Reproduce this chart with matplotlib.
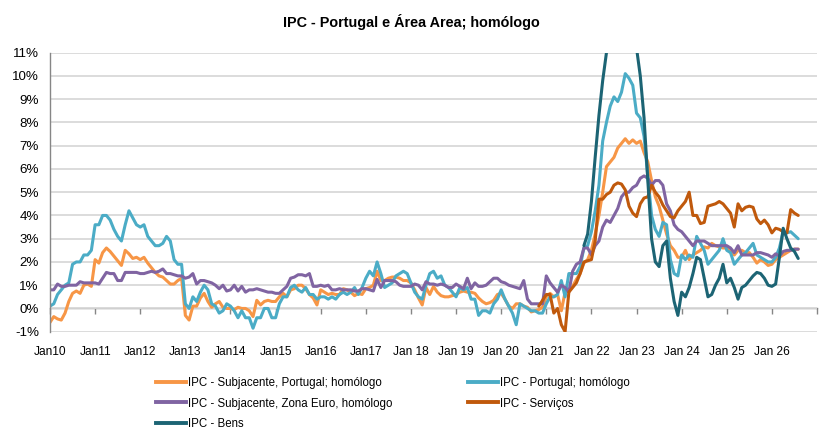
import numpy as np
import pandas as pd
import matplotlib
matplotlib.use("Agg")
import matplotlib.pyplot as plt
from matplotlib.lines import Line2D

plt.rcParams['font.family'] = ['Liberation Sans', 'DejaVu Sans']

# ---------------- data (monthly, y/y %) ----------------
months = pd.date_range('2010-01-01', '2026-08-01', freq='MS')

ipc_portugal = [
    0.1, 0.2, 0.6, 0.8, 1.0, 1.1, 1.9, 2.0, 2.0, 2.3, 2.3, 2.5,          # 2010
    3.6, 3.6, 4.0, 4.0, 3.8, 3.4, 3.1, 2.9, 3.6, 4.2, 3.9, 3.6,          # 2011
    3.5, 3.6, 3.1, 2.9, 2.7, 2.7, 2.8, 3.1, 2.9, 2.1, 1.9, 1.9,          # 2012
    0.2, 0.0, 0.5, 0.3, 0.7, 1.0, 0.8, 0.2, 0.1, -0.2, -0.1, 0.2,        # 2013
    0.1, -0.1, -0.4, -0.1, -0.4, -0.4, -0.85, -0.4, -0.4, 0.0, 0.0, -0.4,  # 2014
    -0.4, 0.2, 0.5, 0.5, 0.9, 1.0, 0.8, 0.7, 0.9, 0.6, 0.6, 0.4,         # 2015
    0.5, 0.5, 0.4, 0.5, 0.4, 0.6, 0.7, 0.6, 0.7, 0.9, 0.6, 0.9,          # 2016
    1.3, 1.6, 1.4, 2.0, 1.5, 0.9, 1.0, 1.1, 1.4, 1.5, 1.6, 1.5,          # 2017
    1.1, 0.7, 0.5, 0.4, 1.0, 1.5, 1.6, 1.3, 1.4, 1.0, 0.9, 0.7,          # 2018
    0.5, 0.9, 0.8, 0.9, 0.4, 0.4, -0.3, -0.1, -0.1, -0.2, 0.2, 0.4,      # 2019
    0.8, 0.4, 0.1, -0.2, -0.7, 0.2, 0.1, 0.0, -0.1, -0.1, -0.2, -0.2,    # 2020
    0.2, 0.5, 0.5, 0.6, 1.2, 0.5, 1.5, 1.5, 1.5, 1.8, 2.6, 2.7,          # 2021
    3.3, 4.2, 5.3, 7.2, 8.0, 8.7, 9.1, 8.9, 9.3, 10.1, 9.9, 9.6,         # 2022
    8.4, 8.2, 7.4, 5.7, 4.0, 3.4, 3.1, 3.7, 3.6, 2.1, 1.5, 1.4,          # 2023
    2.3, 2.1, 2.3, 2.2, 3.1, 2.8, 2.5, 1.9, 2.1, 2.3, 2.5, 3.0,          # 2024
    2.5, 2.4, 1.9, 2.1, 2.3, 2.4, 2.6, 2.8, 2.3, 2.2, 2.1, 2.0,          # 2025
    2.0, 2.2, 2.6, 3.3, 3.25, 3.3, 3.15, 3.0,                            # 2026
]

subjacente_portugal = [
    -0.6, -0.35, -0.45, -0.5, -0.2, 0.3, 0.65, 0.75, 0.65, 1.0, 1.05, 0.95,
    2.1, 1.95, 2.4, 2.6, 2.45, 2.25, 2.05, 1.85, 2.5, 2.35, 2.15, 2.2,
    2.1, 2.2, 1.95, 1.75, 1.55, 1.4, 1.35, 1.2, 1.05, 1.05, 1.2, 1.3,
    -0.3, -0.5, 0.1, 0.1, 0.45, 0.65, 0.3, 0.05, 0.2, 0.3, 0.05, 0.0,
    0.0, -0.05, 0.05, 0.0, 0.0, -0.1, -0.35, 0.35, 0.15, 0.3, 0.35, 0.3,
    0.3, 0.5, 0.65, 0.5, 0.8, 0.85, 1.0, 1.0, 0.85, 0.6, 0.45, 0.15,
    0.8, 0.7, 0.6, 0.65, 0.6, 0.6, 0.85, 0.8, 0.7, 0.55, 0.65, 0.6,
    0.85, 0.9, 1.0, 1.6, 1.2, 1.2, 1.3, 1.35, 1.35, 1.3, 1.2, 1.2,
    1.1, 0.8, 0.45, 0.15, 0.9, 0.6, 0.95, 0.7, 0.55, 0.5, 0.5, 0.55,
    0.6, 0.7, 0.75, 0.7, 0.7, 0.65, 0.45, 0.3, 0.2, 0.25, 0.35, 0.6,
    0.65, 0.4, 0.1, 0.0, 0.2, 0.2, 0.1, 0.05, -0.15, -0.1, -0.05, 0.05,
    0.5, 0.65, 0.5, 0.6, -0.1, 0.7, 0.75, 0.95, 1.25, 1.5, 1.95, 2.1,
    2.5, 3.2, 4.0, 5.0, 6.1, 6.3, 6.5, 6.9, 7.1, 7.3, 7.1, 7.25,
    7.1, 7.2, 6.7, 6.3, 5.5, 4.8, 4.4, 3.8, 3.2, 2.7, 2.5, 2.2,
    2.2, 2.5, 2.1, 2.3, 2.4, 2.5, 2.65, 2.6, 2.8, 2.7, 2.65, 2.6,
    2.6, 2.5, 2.3, 2.5, 2.5, 2.4, 2.4, 2.2, 1.95, 2.1, 2.0, 1.85,
    1.9, 2.1, 2.2, 2.3, 2.4, 2.5, 2.55, 2.55,
]

subjacente_zona_euro = [
    0.8, 0.8, 1.05, 0.95, 0.95, 1.0, 1.0, 1.0, 1.15, 1.1, 1.1, 1.1,
    1.1, 1.05, 1.3, 1.55, 1.5, 1.5, 1.2, 1.2, 1.55, 1.55, 1.55, 1.55,
    1.5, 1.5, 1.55, 1.6, 1.55, 1.6, 1.7, 1.5, 1.5, 1.45, 1.4, 1.4,
    1.3, 1.35, 1.5, 1.05, 1.2, 1.2, 1.15, 1.1, 1.0, 0.85, 1.0, 0.75,
    0.8, 1.0, 0.75, 0.95, 0.7, 0.8, 0.8, 0.85, 0.8, 0.75, 0.7, 0.7,
    0.65, 0.65, 0.8, 0.95, 1.3, 1.35, 1.45, 1.45, 1.4, 1.5, 0.95, 0.95,
    1.0, 0.95, 1.0, 0.8, 0.8, 0.85, 0.8, 0.8, 0.8, 0.75, 0.75, 0.85,
    0.85, 0.8, 0.75, 1.25, 0.9, 1.2, 1.2, 1.2, 1.15, 1.0, 0.95, 0.95,
    0.95, 1.05, 1.0, 0.8, 1.15, 1.05, 1.05, 1.0, 1.05, 1.0, 0.9, 0.9,
    1.05, 0.95, 0.85, 1.3, 0.85, 1.1, 0.95, 0.95, 1.0, 1.15, 1.3, 1.3,
    1.15, 1.1, 1.0, 0.95, 0.9, 0.85, 1.2, 0.4, 0.2, 0.2, 0.2, 0.2,
    1.4, 1.1, 0.9, 0.7, 1.0, 0.9, 0.7, 1.6, 1.9, 2.0, 2.6, 2.6,
    2.3, 2.7, 2.9, 3.5, 3.8, 3.7, 4.0, 4.3, 4.8, 5.0, 5.0, 5.2,
    5.3, 5.6, 5.7, 5.6, 5.3, 5.5, 5.5, 5.3, 4.5, 4.2, 3.6, 3.4,
    3.3, 3.1, 2.9, 2.7, 2.9, 2.9, 2.9, 2.8, 2.7, 2.7, 2.7, 2.7,
    2.7, 2.6, 2.4, 2.7, 2.3, 2.3, 2.3, 2.3, 2.4, 2.4, 2.35, 2.3,
    2.2, 2.35, 2.25, 2.45, 2.5, 2.5, 2.55, 2.55,
]

servicos_start = '2020-11-01'
servicos = [
    0.1, 0.35,
    0.6, 0.6, -0.2, 0.0, -0.7, -1.0, 0.7, 0.9, 1.1, 1.5, 2.0, 2.05,
    2.1, 2.9, 4.7, 4.7, 4.9, 5.0, 5.3, 5.4, 5.35, 5.1, 4.4, 4.1,
    3.95, 4.5, 4.75, 4.8, 5.3, 5.0, 4.8, 4.45, 4.2, 3.95, 3.9, 4.2,
    4.4, 4.6, 5.0, 4.0, 4.0, 3.65, 3.7, 4.4, 4.45, 4.5, 4.6, 4.5,
    4.3, 4.1, 3.5, 4.5, 4.2, 4.35, 4.4, 4.35, 3.85, 3.65, 3.8, 3.6,
    3.25, 3.45, 3.4, 3.3, 3.25, 4.25, 4.1, 4.0,
]

bens_start = '2021-11-01'
bens = [
    2.7, 3.2,
    4.6, 6.5, 8.3, 9.8, 11.0, 12.3, 13.2, 13.8, 14.2, 14.6, 14.0, 12.8,
    11.2, 10.0, 8.2, 5.5, 3.0, 2.0, 1.8, 2.7, 2.9, 1.3, 0.3, -0.3,
    0.7, 0.5, 0.9, 1.5, 2.2, 2.1, 1.3, 0.5, 0.6, 1.0, 1.3, 1.9,
    1.1, 1.3, 0.9, 0.4, 0.9, 1.0, 1.2, 1.4, 1.55, 1.5, 1.3, 1.0,
    0.95, 1.05, 2.2, 3.45, 3.0, 2.6, 2.45, 2.15,
]

year_ticks = list(range(2010, 2028))
year_labels = ['Jan10', 'Jan11', 'Jan12', 'Jan13', 'Jan14', 'Jan15', 'Jan16',
               'Jan17', 'Jan 18', 'Jan 19', 'Jan 20', 'Jan 21', 'Jan 22',
               'Jan 23', 'Jan 24', 'Jan 25', 'Jan 26', '']
y_ticks = list(range(-1, 12))

title = 'IPC - Portugal e Área Area; homólogo'
names = ['IPC - Subjacente, Portugal; homólogo', 'IPC - Portugal; homólogo',
         'IPC - Subjacente, Zona Euro, homólogo', 'IPC - Serviços', 'IPC - Bens']
colors = ['#F79646', '#4BACC6', '#8064A2', '#C0590C', '#1C6474']

# ---------------- helpers ----------------
def dec_year(idx):
    return idx.year + (idx.month - 1) / 12.0

s_pt = pd.Series(ipc_portugal, index=months)
s_core_pt = pd.Series(subjacente_portugal, index=months)
s_core_ez = pd.Series(subjacente_zona_euro, index=months)
s_serv = pd.Series(servicos, index=pd.date_range(servicos_start, periods=len(servicos), freq='MS'))
s_bens = pd.Series(bens, index=pd.date_range(bens_start, periods=len(bens), freq='MS'))

series = [s_core_pt, s_pt, s_core_ez, s_serv, s_bens]

# ---------------- figure ----------------
fig = plt.figure(figsize=(8.24, 4.32), dpi=100)
ax = fig.add_axes([50 / 824, 1 - 331.7 / 432, 767 / 824, 279 / 432])

for s, c, n in zip(series, colors, names):
    ax.plot(dec_year(s.index), s.values, color=c, lw=2.2, label=n,
            solid_joinstyle='round', solid_capstyle='round', clip_on=True)

ax.set_xlim(2010, 2027)
ax.set_ylim(-1, 11)
ax.set_yticks(y_ticks)
ax.set_yticklabels([f'{v}%' for v in y_ticks], fontsize=9.6)
ax.yaxis.grid(True, color='#D9D9D9', lw=1.3)
ax.set_axisbelow(True)
ax.tick_params(axis='y', length=0, pad=8)

ax.set_xticks(year_ticks)
ax.set_xticklabels(year_labels, fontsize=8.6)
ax.tick_params(axis='x', length=0, pad=10)

for sp in ['top', 'right', 'bottom']:
    ax.spines[sp].set_visible(False)
ax.spines['left'].set_color('#868686')
ax.spines['left'].set_linewidth(1.0)

# x axis line at 0 % with tick marks
sec = ax.secondary_xaxis(1 / 12)
sec.set_xticks(year_ticks)
sec.set_xticklabels([])
sec.tick_params(axis='x', direction='out', length=4, width=1.0, color='#868686')
sec.spines['bottom'].set_color('#868686')
sec.spines['bottom'].set_linewidth(1.0)

fig.text(411 / 824, 1 - 22 / 432, title, ha='center', va='center',
         fontsize=10.4, fontweight='bold')

handles = [Line2D([], [], color=c, lw=2.8) for c in colors]
order = [0, 2, 4, 1, 3]
fig.legend([handles[i] for i in order], [names[i] for i in order],
           loc='upper left', bbox_to_anchor=(156 / 824, 1 - 377 / 432),
           ncol=2, frameon=False, fontsize=8.3, handlelength=2.6,
           handletextpad=0.2, columnspacing=6.5, labelspacing=0.74,
           borderpad=0, borderaxespad=0)

fig.savefig('out.png', dpi=100)
